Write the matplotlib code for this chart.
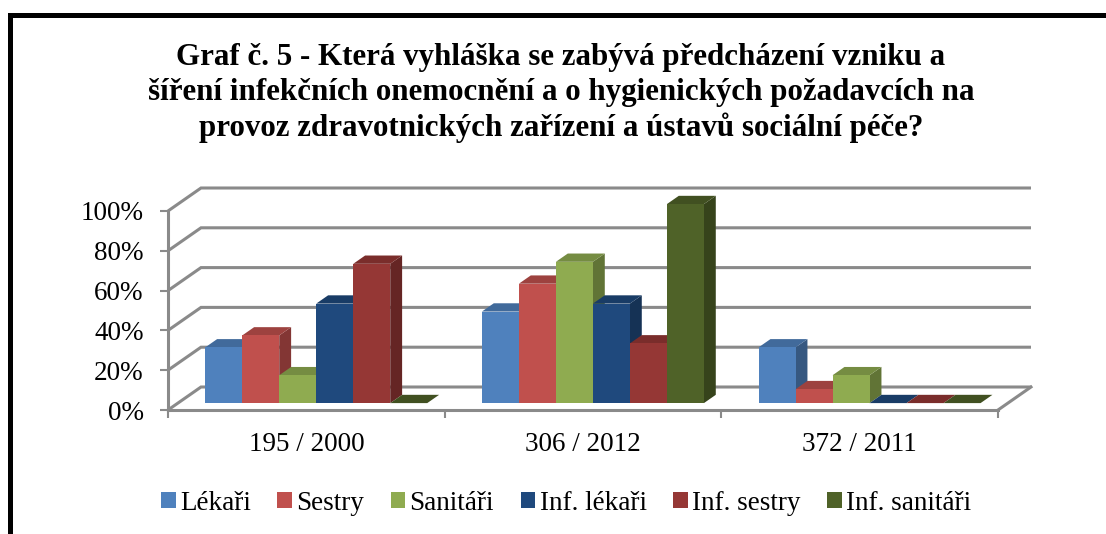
import matplotlib
matplotlib.use('Agg')
import matplotlib.pyplot as plt
from matplotlib.patches import Polygon, Rectangle, Patch
from matplotlib.ticker import FuncFormatter
from matplotlib.colors import to_rgb

# ---------------- data ----------------
categories = ['195 / 2000', '306 / 2012', '372 / 2011']
series_names = ['Lékaři', 'Sestry', 'Sanitáři', 'Inf. lékaři', 'Inf. sestry', 'Inf. sanitáři']
lekari = [28, 46, 28]
sestry = [34, 60, 7]
sanitari = [14, 71, 14]
inf_lekari = [50, 50, 0]
inf_sestry = [70, 30, 0]
inf_sanitari = [0, 100, 0]
y_ticks = [0, 20, 40, 60, 80, 100]
title = ('Graf č. 5 - Která vyhláška se zabývá předcházení vzniku a\n'
         'šíření infekčních onemocnění a o hygienických požadavcích na\n'
         'provoz zdravotnických zařízení a ústavů sociální péče?')

series_values = [lekari, sestry, sanitari, inf_lekari, inf_sestry, inf_sanitari]
colors = ['#4F81BD', '#C0504D', '#8FAB50', '#1F497D', '#953735', '#4F6228']

serif = ['Liberation Serif', 'DejaVu Serif']
plt.rcParams['font.family'] = serif

W, H = 1106, 534
fig = plt.figure(figsize=(W / 100, H / 100), dpi=100)
fig.patch.set_facecolor('white')

# front plane of the 3D box
left_px, right_px, bot_px, top_px = 168, 998, 410, 211
ax = fig.add_axes([left_px / W, (H - bot_px) / H, (right_px - left_px) / W, (bot_px - top_px) / H])
ax.set_xlim(0, 3)
ax.set_ylim(0, 100)
ax.patch.set_alpha(0)

sx = (right_px - left_px) / 3.0
sy = (bot_px - top_px) / 100.0
DX = 33 / sx
DY = 23 / sy

grid_c = '#8A8A8A'
glw = 2.2

# walls / gridlines
for y in y_ticks:
    ax.plot([0, DX, 3 + DX], [y, y + DY, y + DY], color=grid_c, lw=glw,
            clip_on=False, zorder=1, solid_joinstyle='miter', solid_capstyle='butt')
ax.plot([3, 3 + DX], [0, DY], color=grid_c, lw=glw, clip_on=False, zorder=1)

for s in ['top', 'right']:
    ax.spines[s].set_visible(False)
for s in ['left', 'bottom']:
    ax.spines[s].set_color(grid_c)
    ax.spines[s].set_linewidth(glw)

ax.set_yticks(y_ticks)
ax.yaxis.set_major_formatter(FuncFormatter(lambda v, p: f'{int(v)}%'))
ax.tick_params(axis='y', length=6, width=1.5, color=grid_c, pad=11.5, labelsize=19.5)

ax.set_xticks([0, 1, 2, 3])
ax.set_xticklabels([])
ax.set_xticks([0.5, 1.5, 2.5], minor=True)
ax.set_xticklabels(categories, minor=True)
ax.tick_params(axis='x', which='major', length=6, width=1.5, color=grid_c)
ax.tick_params(axis='x', which='minor', length=0, pad=16, labelsize=19.5)


def shade(c, f):
    r, g, b = to_rgb(c)
    return (r * f, g * f, b * f)


# bars
w = 37 / sx
f0, f1 = 0.30, 0.66
ddx = (f1 - f0) * DX
ddy = (f1 - f0) * DY
group_w = w * len(series_values)
for i in range(len(categories)):
    for j, vals in enumerate(series_values):
        v = vals[i]
        c = colors[j]
        x0 = i + 0.5 - group_w / 2 + j * w + f0 * DX
        b = f0 * DY
        z = 10 + i * 20 + j * 3
        side = Polygon([(x0 + w, b), (x0 + w, b + v), (x0 + w + ddx, b + v + ddy), (x0 + w + ddx, b + ddy)],
                       closed=True, facecolor=shade(c, 0.68), edgecolor='none', zorder=z, clip_on=False)
        top = Polygon([(x0, b + v), (x0 + w, b + v), (x0 + w + ddx, b + v + ddy), (x0 + ddx, b + v + ddy)],
                      closed=True, facecolor=shade(c, 0.82), edgecolor='none', zorder=z + 1, clip_on=False)
        ax.add_patch(side)
        ax.add_patch(top)
        if v > 0:
            front = Rectangle((x0, b), w, v, facecolor=c, edgecolor='none', zorder=z + 2, clip_on=False)
            ax.add_patch(front)

# title
fig.text(561 / W, 1 - 93 / H, title, ha='center', va='center', ma='center',
         fontsize=22.3, fontweight='bold', linespacing=1.24, family=serif)

# legend
handles = [Patch(facecolor=c, edgecolor='none') for c in colors]
fig.legend(handles, series_names, loc='center', bbox_to_anchor=(566 / W, 1 - 503 / H),
           ncol=6, frameon=False, fontsize=19.5, handlelength=0.55, handleheight=0.55,
           handletextpad=0.15, columnspacing=0.98, borderaxespad=0, borderpad=0)

# outer border
border = Rectangle((9.5 / W, -0.2), 1.2, (1 - 15.5 / H) + 0.2, transform=fig.transFigure,
                   fill=False, edgecolor='black', lw=3.6, clip_on=False)
fig.add_artist(border)

fig.savefig('out.png', dpi=100)
